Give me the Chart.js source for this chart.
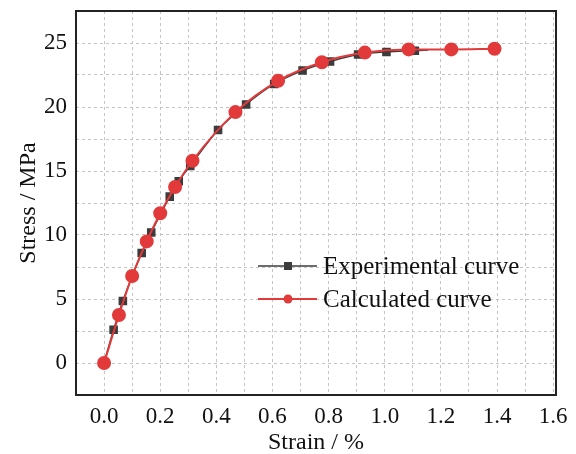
<!DOCTYPE html>
<html>
<head>
<meta charset="utf-8">
<script src="https://cdn.jsdelivr.net/npm/chart.js"></script>
<style>
  html, body { margin: 0; padding: 0; background: #fff; }
</style>
</head>
<body>
<canvas id="chart" width="576" height="454"></canvas>
<script>
// experimental curve (squares)
const expStrain = [0, 0.034, 0.067, 0.134, 0.168, 0.234, 0.266, 0.307, 0.406, 0.506, 0.606, 0.707, 0.805, 0.905, 1.006, 1.107, 1.154];
const expStress = [0, 2.6, 4.85, 8.6, 10.2, 13.0, 14.2, 15.4, 18.2, 20.2, 21.8, 22.85, 23.55, 24.1, 24.3, 24.4, 24.45];
// calculated curve (circles)
const calcStrain = [0, 0.053, 0.1, 0.152, 0.2, 0.253, 0.315, 0.468, 0.62, 0.776, 0.929, 1.085, 1.237, 1.391];
const calcStress = [0, 3.75, 6.8, 9.5, 11.7, 13.75, 15.8, 19.6, 22.05, 23.5, 24.25, 24.5, 24.5, 24.55];

const seriesNames = ['Experimental curve', 'Calculated curve'];
const xTitle = 'Strain / %';
const yTitle = 'Stress / MPa';

const RED = '#e23a3a';
const GRAY = '#3c3c3c';
const FONT = "'Liberation Serif', 'Times New Roman', serif";

const toPoints = (xs, ys) => xs.map((x, i) => ({ x: x, y: ys[i] }));

// box around the plot area
const frame = {
    id: 'frame',
    afterDraw(chart) {
        const a = chart.chartArea;
        const ctx = chart.ctx;
        ctx.save();
        ctx.strokeStyle = '#222';
        ctx.lineWidth = 2;
        ctx.strokeRect(a.left, a.top, a.right - a.left, a.bottom - a.top);
        ctx.restore();
    }
};

// legend inside the plot
const legendBox = {
    id: 'legendBox',
    afterDraw(chart) {
        const ctx = chart.ctx;
        const rows = [
            { label: seriesNames[0], color: GRAY, style: 'rect', y: 266 },
            { label: seriesNames[1], color: RED, style: 'circle', y: 299 }
        ];
        ctx.save();
        rows.forEach(r => {
            ctx.strokeStyle = r.color;
            ctx.lineWidth = r.style === 'rect' ? 1.5 : 2;
            ctx.beginPath();
            ctx.moveTo(258, r.y);
            ctx.lineTo(317, r.y);
            ctx.stroke();
            ctx.fillStyle = r.color;
            if (r.style === 'rect') {
                ctx.fillRect(284, r.y - 4, 8, 8);
            } else {
                ctx.beginPath();
                ctx.arc(288, r.y, 4.5, 0, Math.PI * 2);
                ctx.fill();
            }
            ctx.fillStyle = '#111';
            ctx.font = '25px ' + FONT;
            ctx.textBaseline = 'middle';
            ctx.fillText(r.label, 323, r.y + 1);
        });
        ctx.restore();
    }
};

new Chart(document.getElementById('chart'), {
    type: 'line',
    data: {
        datasets: [{
            label: seriesNames[0],
            data: toPoints(expStrain, expStress),
            borderColor: GRAY,
            backgroundColor: GRAY,
            borderWidth: 1.5,
            pointStyle: 'rect',
            pointRadius: expStrain.map((v, i) => i === expStrain.length - 1 ? 0 : 5),
            cubicInterpolationMode: 'monotone',
            order: 2
        }, {
            label: seriesNames[1],
            data: toPoints(calcStrain, calcStress),
            borderColor: RED,
            backgroundColor: RED,
            borderWidth: 2,
            pointStyle: 'circle',
            pointRadius: 6,
            cubicInterpolationMode: 'monotone',
            order: 1
        }]
    },
    options: {
        responsive: false,
        animation: false,
        layout: { padding: { top: 11, right: 20, left: 0, bottom: 0 } },
        plugins: {
            legend: { display: false },
            tooltip: { enabled: false }
        },
        scales: {
            x: {
                type: 'linear',
                min: -0.1,
                max: 1.61,
                afterFit: s => { s.height = 59; s.paddingLeft = 0; s.paddingRight = 0; },
                grid: { color: '#c4c4c4', drawTicks: false, lineWidth: 1 },
                border: { display: false, dash: [3, 3] },
                ticks: {
                    stepSize: 0.1,
                    includeBounds: false,
                    autoSkip: false,
                    maxRotation: 0,
                    padding: 8,
                    color: '#111',
                    font: { family: FONT, size: 23 },
                    callback: v => {
                        const k = Math.round(v * 10);
                        return (k >= 0 && k % 2 === 0) ? (k / 10).toFixed(1) : '';
                    }
                },
                title: {
                    display: true,
                    text: xTitle,
                    color: '#111',
                    padding: { top: 2, bottom: -3 },
                    font: { family: FONT, size: 24 }
                }
            },
            y: {
                type: 'linear',
                min: -2.5,
                max: 27.5,
                afterFit: s => { s.width = 76; s.paddingTop = 0; s.paddingBottom = 0; },
                grid: { color: '#c4c4c4', drawTicks: false, lineWidth: 1 },
                border: { display: false, dash: [3, 3] },
                ticks: {
                    stepSize: 2.5,
                    includeBounds: false,
                    autoSkip: false,
                    padding: 9,
                    color: '#111',
                    font: { family: FONT, size: 23 },
                    callback: v => {
                        const k = Math.round(v * 2);
                        return (k >= 0 && k % 10 === 0 && v <= 25) ? String(k / 2) : '';
                    }
                },
                title: {
                    display: true,
                    text: yTitle,
                    color: '#111',
                    padding: { top: 14, bottom: 0 },
                    font: { family: FONT, size: 24 }
                }
            }
        }
    },
    plugins: [frame, legendBox]
});
</script>
</body>
</html>
